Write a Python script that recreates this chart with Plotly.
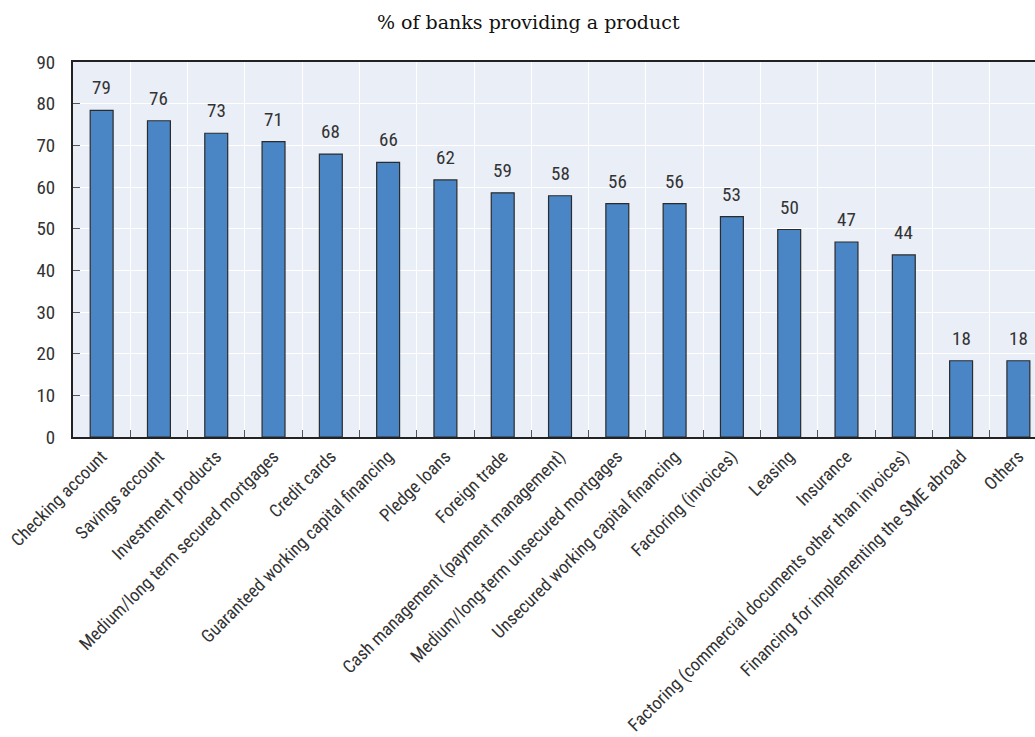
import plotly.graph_objects as go

categories = [
    "Checking account", "Savings account", "Investment products",
    "Medium/long term secured mortgages", "Credit cards",
    "Guaranteed working capital financing", "Pledge loans", "Foreign trade",
    "Cash management (payment management)", "Medium/long-term unsecured mortgages",
    "Unsecured working capital financing", "Factoring (invoices)", "Leasing",
    "Insurance", "Factoring (commercial documents other than invoices)",
    "Financing for implementing the SME abroad", "Others",
]
values = [78.4, 75.9, 72.9, 70.9, 67.9, 65.9, 61.7, 58.6, 57.9, 56.0, 56.0,
          52.9, 49.8, 46.8, 43.7, 18.3, 18.3]
value_labels = ["79", "76", "73", "71", "68", "66", "62", "59", "58", "56", "56",
                "53", "50", "47", "44", "18", "18"]
y_ticks = [0, 10, 20, 30, 40, 50, 60, 70, 80, 90]
subtitle = "% of banks providing a product"

FONT = "Liberation Sans Narrow, Roboto Condensed, Arial Narrow, Liberation Sans, sans-serif"

fig = go.Figure()
fig.add_trace(go.Bar(
    x=categories, y=values, width=0.4,
    marker=dict(color="#4A86C5", line=dict(color="#2b2b2b", width=1.2)),
    hoverinfo="skip",
))
for c, v, t in zip(categories, values, value_labels):
    fig.add_annotation(x=c, y=v, text=t, showarrow=False, yanchor="bottom",
                       yshift=9, font=dict(family=FONT, size=19, color="#333"))

fig.add_annotation(text=subtitle, xref="paper", yref="paper", x=0.473, y=1.0,
                   yshift=40, showarrow=False, xanchor="center", yanchor="middle",
                   font=dict(family="DejaVu Serif, Liberation Serif, serif", size=19, color="#111"))

fig.update_layout(
    width=1035, height=737,
    margin=dict(l=73, r=0, t=62, b=300),
    paper_bgcolor="white", plot_bgcolor="#E9EEF7",
    showlegend=False,
    font=dict(family=FONT, color="#333"),
)
fig.update_xaxes(
    type="category", range=[-0.5, 16.29], tickson="boundaries",
    showgrid=True, gridcolor="white", gridwidth=1.2,
    ticks="inside", ticklen=7, tickcolor="#555", tickwidth=1,
    showline=True, linecolor="#222", linewidth=2, mirror=True,
    tickangle=-45, tickfont=dict(family=FONT, size=18, color="#333"),
)
fig.update_yaxes(
    range=[0, 90], tickvals=y_ticks, showgrid=True, gridcolor="white", gridwidth=1.2,
    ticks="inside", ticklen=7, tickcolor="#555", tickwidth=1,
    showline=True, linecolor="#222", linewidth=2, zeroline=False,
    ticklabelstandoff=12,
    tickfont=dict(family=FONT, size=19, color="#333"),
)
fig.write_html(
    "out.html",
    config={"displayModeBar": False},
    post_script="document.body.style.margin='0';document.body.style.overflow='hidden';",
)
